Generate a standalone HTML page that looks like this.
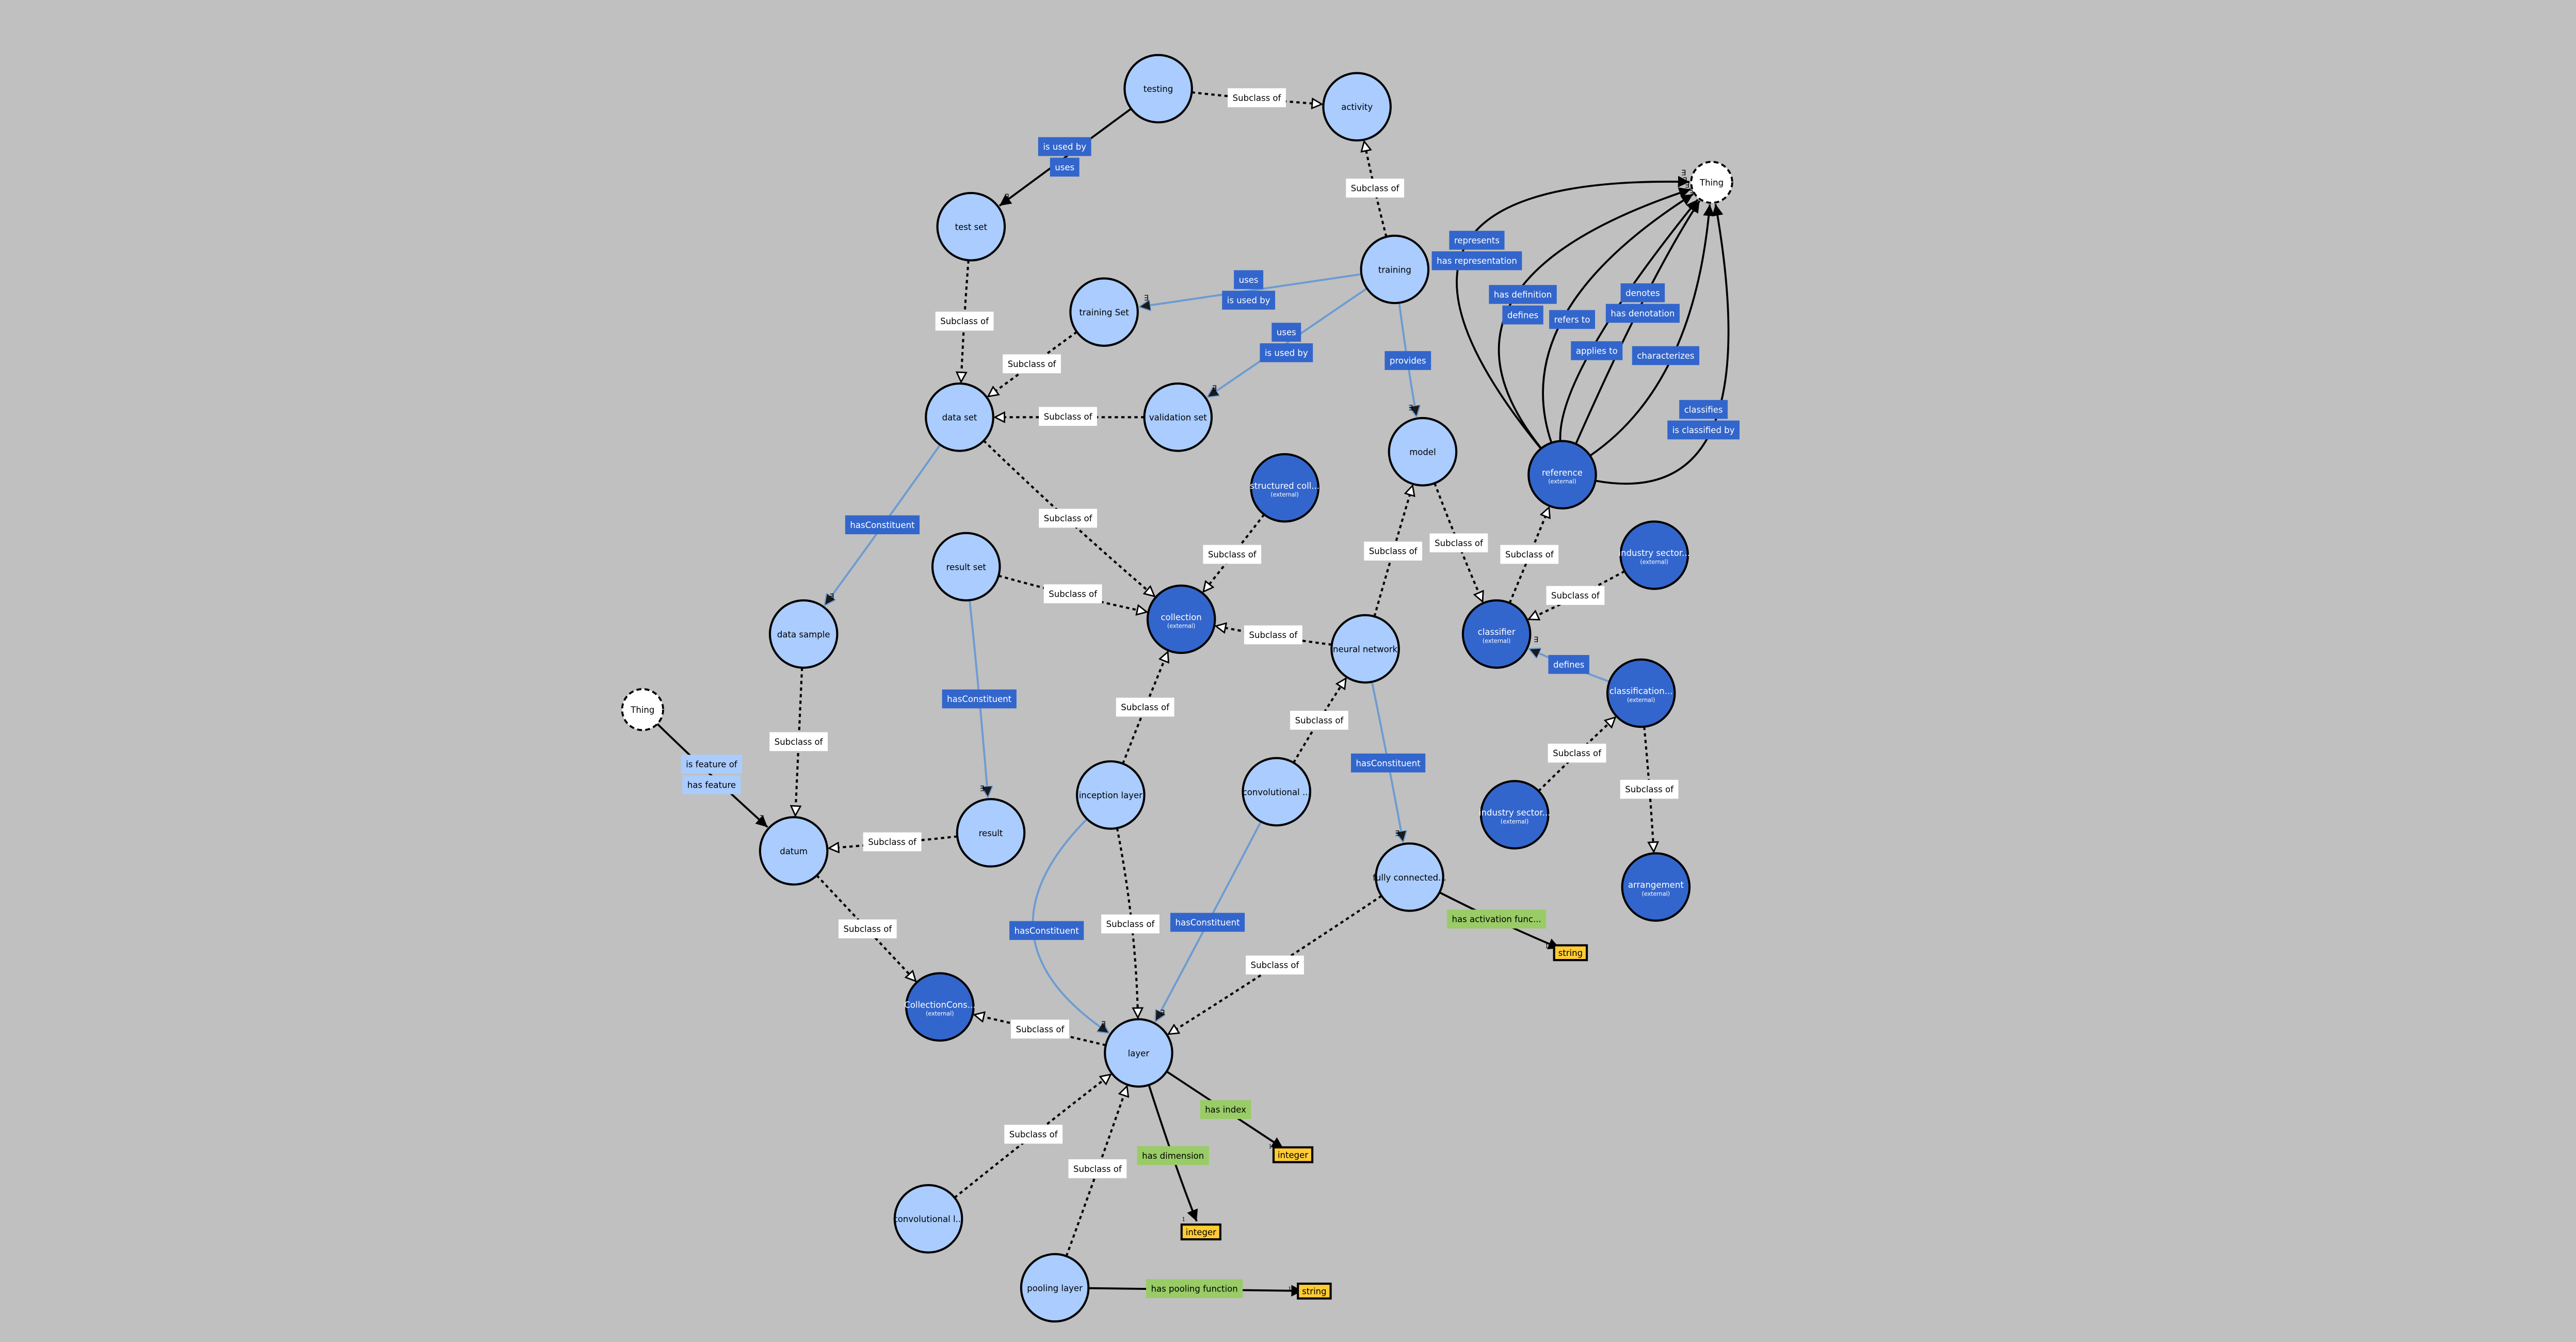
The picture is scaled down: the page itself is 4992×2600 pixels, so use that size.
<!DOCTYPE html>
<html><head><meta charset="utf-8"><style>
html,body{margin:0;padding:0;background:#c0c0c0;}
svg{display:block;font-family:"DejaVu Sans","Liberation Sans",sans-serif;}
</style></head><body>
<svg id="g" width="4992" height="2600" viewBox="0 0 1568 817" xmlns="http://www.w3.org/2000/svg">
<defs>
<marker id="mb" viewBox="0 0 10 10" refX="10" refY="5" markerWidth="7" markerHeight="7" markerUnits="userSpaceOnUse" orient="auto"><path d="M0,0 L10,5 L0,10 z" fill="#000"/></marker>
<marker id="mbs" viewBox="0 0 10 10" refX="0" refY="5" markerWidth="7" markerHeight="7" markerUnits="userSpaceOnUse" orient="auto-start-reverse"><path d="M0,0 L10,5 L0,10 z" fill="#000"/></marker>
<marker id="mu" viewBox="0 0 10 10" refX="10" refY="5" markerWidth="7" markerHeight="7" markerUnits="userSpaceOnUse" orient="auto"><path d="M0,0 L10,5 L0,10 z" fill="#1a1a1a" stroke="#6c9bd2" stroke-width="1"/></marker>
<marker id="mus" viewBox="0 0 10 10" refX="0" refY="5" markerWidth="7" markerHeight="7" markerUnits="userSpaceOnUse" orient="auto-start-reverse"><path d="M0,0 L10,5 L0,10 z" fill="#1a1a1a" stroke="#6c9bd2" stroke-width="1"/></marker>
<marker id="mw" viewBox="0 0 12 12" refX="11" refY="6" markerWidth="7" markerHeight="7" markerUnits="userSpaceOnUse" orient="auto"><path d="M1,1 L11,6 L1,11 z" fill="#fff" stroke="#000" stroke-width="1.5"/></marker>
</defs>
<rect width="1568" height="817" fill="#c0c0c0"/>
<g id="edges"></g><g id="nodes"></g><g id="labels"></g>
</svg>
<script>
const nodeIds = ["testing","activity","testset","training","trainingset","dataset","validationset","model","reference","structured","resultset","collection","neuralnet","classifier","industry1","classification","datasample","thing1","thing2","datum","result","inception","convo","fully","industry2","arrangement","collcons","layer","convl","pooling","dtString1","dtInt1","dtInt2","dtString2"];
const nodeLabels = ["testing","activity","test set","training","training Set","data set","validation set","model","reference","structured coll...","result set","collection","neural network","classifier","industry sector...","classification...","data sample","Thing","Thing","datum","result","inception layer","convolutional ...","fully connected...","industry sector...","arrangement","CollectionCons...","layer","convolutional l...","pooling layer","string","integer","integer","string"];
const nodeKinds = ["c","c","c","c","c","c","c","c","x","x","c","x","c","x","x","x","c","t","t","c","c","c","c","c","x","x","x","c","c","c","d","d","d","d"];
const nodeX = [705,826,591,849,672,584,717,866,951,782,588,719,831,911,1007,999,489,391,1042,483,603,676,777,858,922,1008,572,693,565,642,956,787,731,800];
const nodeY = [54,65,138,164,190,254,254,275,289,297,345,377,395,386,338,422,386,432,111,518,507,484,482,534,496,540,613,641,742,784,580,703,750,786];

const edgeFrom = ["testing","training","testset","trainingset","validationset","dataset","resultset","structured","neuralnet","inception","convo","neuralnet","model","classifier","industry1","industry2","classification","datasample","result","datum","layer","inception","fully","convl","pooling",
 "testing","training","training","training","dataset","resultset","inception","convo","neuralnet","classification","thing1",
 "reference","reference","reference","reference","reference","reference","reference",
 "fully","layer","layer","pooling"];
const edgeTo = ["activity","activity","dataset","dataset","dataset","collection","collection","collection","collection","collection","neuralnet","model","classifier","reference","classifier","classification","arrangement","datum","datum","collcons","collcons","layer","layer","layer","layer",
 "testset","trainingset","validationset","model","datasample","result","layer","layer","fully","classifier","datum",
 "thing2","thing2","thing2","thing2","thing2","thing2","thing2",
 "dtString1","dtInt1","dtInt2","dtString2"];
const edgeKind = ["s","s","s","s","s","s","s","s","s","s","s","s","s","s","s","s","s","s","s","s","s","s","s","s","s",
 "b","u2","u2","u","u","u","u","u","u","u","b2",
 "b2","b2","b","b2","b","b","b2",
 "d","d","d","d"];
const edgeLX = [765,837,587,628,650,650,653,750,775,697,803,848,888,931,959,960,1004,486,543,528,633,688,776,629,668,
 648,760,783,857,537,596,637,735,845,955,433,
 899,927,957,1000,972,1014,1037,
 911,746,714,727];
const edgeLY = [60,115,196,222,254,316,362,338,387,431,439,336,331,338,363,459,481,452,513,566,627,563,588,691,712,
 96,177,209,220,320,426,567,562,465,405,472,
 153,186,195,185,214,217,256,
 560,676,704,785];
const edgeText1 = ["Subclass of","Subclass of","Subclass of","Subclass of","Subclass of","Subclass of","Subclass of","Subclass of","Subclass of","Subclass of","Subclass of","Subclass of","Subclass of","Subclass of","Subclass of","Subclass of","Subclass of","Subclass of","Subclass of","Subclass of","Subclass of","Subclass of","Subclass of","Subclass of","Subclass of",
 "is used by","uses","uses","provides","hasConstituent","hasConstituent","hasConstituent","hasConstituent","hasConstituent","defines","is feature of",
 "represents","has definition","refers to","denotes","applies to","characterizes","classifies",
 "has activation func...","has index","has dimension","has pooling function"];
const edgeText2 = ["","","","","","","","","","","","","","","","","","","","","","","","","",
 "uses","is used by","is used by","","","","","","","","has feature",
 "has representation","defines","","has denotation","","","is classified by",
 "","","",""];

const NS="http://www.w3.org/2000/svg";
const FS=5.2;
const gE=document.getElementById('edges'),gN=document.getElementById('nodes'),gL=document.getElementById('labels');
function idx(id){return nodeIds.indexOf(id);}
function rad(i){const k=nodeKinds[i];return k==="t"?12.5:(k==="d"?6:20.5);}
function mk(tag,attrs,parent){const e=document.createElementNS(NS,tag);for(const k in attrs)e.setAttribute(k,attrs[k]);parent.appendChild(e);return e;}

for(let j=0;j<edgeFrom.length;j++){
  const a=idx(edgeFrom[j]),b=idx(edgeTo[j]);
  const ax=nodeX[a],ay=nodeY[a],bx=nodeX[b],by=nodeY[b];
  const lx=edgeLX[j],ly=edgeLY[j];
  const cx=2*lx-(ax+bx)/2,cy=2*ly-(ay+by)/2;
  let dx=cx-ax,dy=cy-ay,d=Math.hypot(dx,dy)||1;
  const sx=ax+dx/d*rad(a),sy=ay+dy/d*rad(a);
  dx=cx-bx;dy=cy-by;d=Math.hypot(dx,dy)||1;
  const ex=bx+dx/d*(rad(b)+1),ey=by+dy/d*(rad(b)+1);
  const k=edgeKind[j];
  const p=mk('path',{d:`M${sx},${sy} Q${cx},${cy} ${ex},${ey}`,fill:'none'},gE);
  
  
  if(k==="s"){p.setAttribute('stroke','#000');p.setAttribute('stroke-width','1.3');p.setAttribute('stroke-dasharray','2,2');p.setAttribute('marker-end','url(#mw)');}
  else if(k[0]==="u"){p.setAttribute('stroke','#6c9bd2');p.setAttribute('stroke-width','1.2');p.setAttribute('marker-end','url(#mu)');if(k==="u2")p.setAttribute('marker-start','url(#mus)');}
  else {p.setAttribute('stroke','#000');p.setAttribute('stroke-width','1.2');p.setAttribute('marker-end','url(#mb)');if(k==="b2")p.setAttribute('marker-start','url(#mbs)');}
  if(k!=="s"&&k!=="d"){const t=mk('text',{x:ex+(ex<bx?-5:3),y:ey-4,'font-size':'4.5','fill':'#000'},gE);t.textContent='∃';}
  if(k==="d"){const t=mk('text',{x:ex-9,y:ey,'font-size':'4','font-family':'Liberation Serif,serif'},gE);t.textContent='1';}
  const fill=k==="s"?"#fff":(k==="d"?"#99cc66":(edgeFrom[j]==="thing1"?"#aaccff":"#3366cc"));
  const tc=(k==="s"||k==="d"||edgeFrom[j]==="thing1")?"#000":"#fff";
  const texts=[edgeText1[j],edgeText2[j]].filter(s=>s);
  const h=11.5;
  texts.forEach((s,q)=>{
    const y0=ly-(texts.length*(h+1))/2+q*(h+1);
    const r=mk('rect',{x:lx,y:y0,width:10,height:h,fill:fill},gL);
    
    
    const t=mk('text',{x:lx,y:y0+h/2+1.9,'font-size':FS,'text-anchor':'middle',fill:tc},gL);
    t.textContent=s;
    
    
    const w=t.getComputedTextLength()+6;
    r.setAttribute('x',lx-w/2);r.setAttribute('width',w);
  });
}
for(let i=0;i<nodeIds.length;i++){
  const k=nodeKinds[i],x=nodeX[i],y=nodeY[i];
  if(k==="d"){
    const r=mk('rect',{x:x,y:y-4.5,width:10,height:9,fill:'#ffcc33',stroke:'#000','stroke-width':'1.3'},gN);
    
    
    const t=mk('text',{x:x,y:y+2,'font-size':FS,'text-anchor':'middle'},gN);t.textContent=nodeLabels[i];
    
    
    const w=t.getComputedTextLength()+5;
    r.setAttribute('x',x-w/2);r.setAttribute('width',w);
    continue;
  }
  const c=mk('circle',{cx:x,cy:y,r:rad(i),stroke:'#000','stroke-width':k==="t"?'1.2':'1.3',fill:k==="c"?'#aaccff':(k==="x"?'#3366cc':'#fff')},gN);
  if(k==="t")c.setAttribute('stroke-dasharray','3,2');
  
  
  const t=mk('text',{x:x,y:y+(k==="x"?0.5:2),'font-size':FS,'text-anchor':'middle',fill:k==="x"?'#fff':'#000'},gN);
  t.textContent=nodeLabels[i];
  
  
  if(k==="x"){const s=mk('text',{x:x,y:y+5.3,'font-size':'3.5','text-anchor':'middle',fill:'#fff'},gN);s.textContent='(external)';
    
    }
}
</script>
</body></html>
